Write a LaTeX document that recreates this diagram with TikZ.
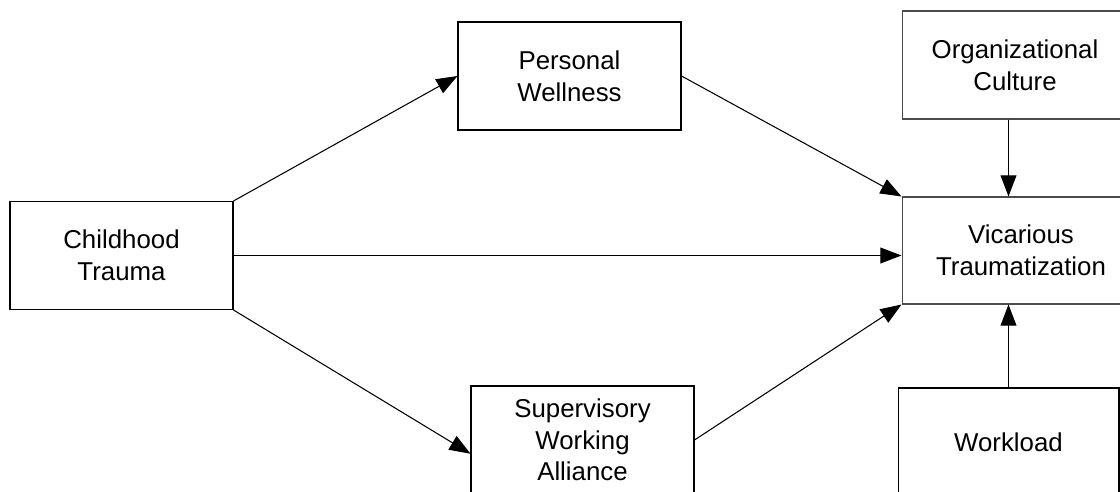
\documentclass[tikz,border=0pt]{standalone}
\usepackage{fontspec}
\setmainfont{Liberation Sans}
\usetikzlibrary{arrows.meta}

\begin{document}
\begin{tikzpicture}[x=0.02cm,y=-0.02cm,
	blk/.style={draw,line width=0.6pt,inner sep=0pt,align=center,
		minimum width=4.46cm,minimum height=2.16cm,
		font=\fontsize{14.7}{18}\selectfont},
	arr/.style={line width=0.6pt,-{Triangle[length=12pt,width=9pt]}}]
	\useasboundingbox (0,0) rectangle (1120,492);

	% left and middle column
	\node[blk] (trauma) at (121.5,255.5) {Childhood\\Trauma};
	\node[blk] (wellness) at (569.5,76) {Personal\\Wellness};
	\node[blk] (alliance) at (582.5,440) {Supervisory\\Working\\Alliance};

	% right column
	\node[blk,draw=black!70,minimum width=4.52cm] (culture) at (1015,65) {Organizational\\Culture};
	\node[blk,draw=black!70,minimum width=4.76cm,minimum height=2.14cm] (vicarious) at (1021,250.5) {Vicarious\\Traumatization};
	\node[blk,minimum width=4.42cm] (workload) at (1008.5,442) {Workload};

	\draw[arr] (trauma.north east) -- (wellness.west);
	\draw[arr] (trauma.east) -- (trauma.east -| vicarious.west);
	\draw[arr] (trauma.south east) -- (alliance.187);
	\draw[arr] (wellness.east) -- (vicarious.north west);
	\draw[arr] (alliance.east) -- (vicarious.south west);
	\draw[arr] (culture.south -| workload.north) -- (vicarious.north -| workload.north);
	\draw[arr] (workload.north) -- (vicarious.south -| workload.north);
\end{tikzpicture}
\end{document}
